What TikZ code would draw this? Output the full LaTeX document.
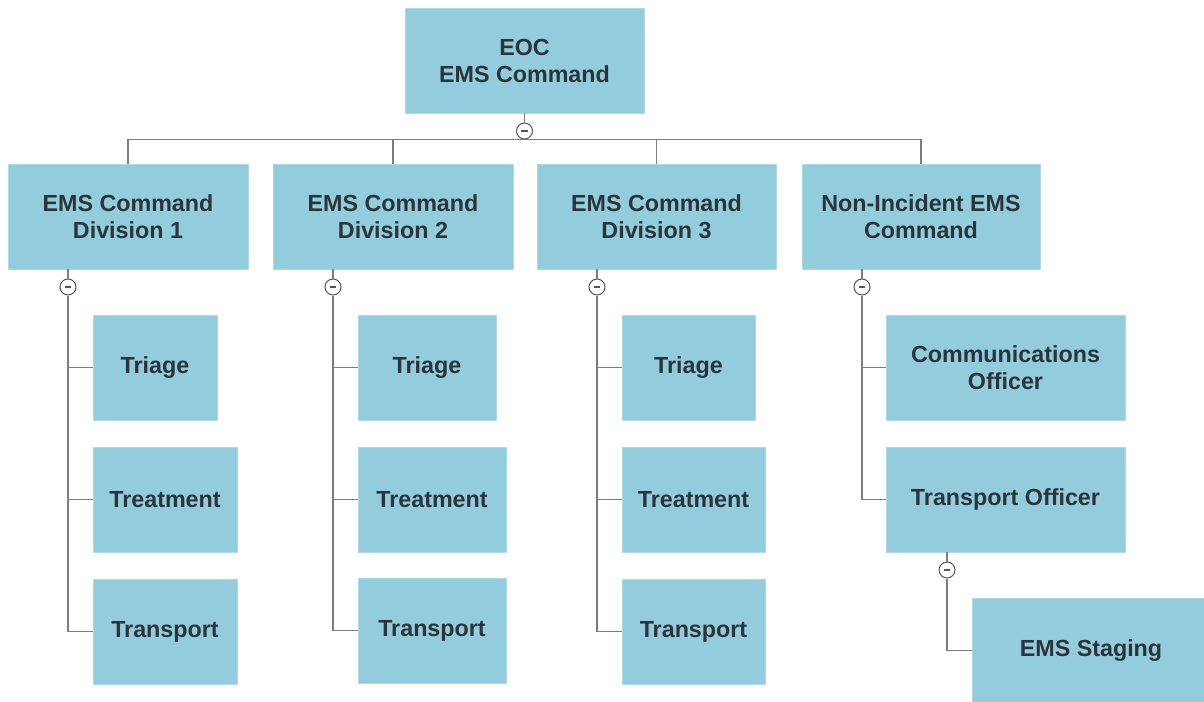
\documentclass[tikz,border=0pt]{standalone}
\usepackage{fontspec}
\setmainfont{Liberation Sans}
\definecolor{boxfill}{RGB}{147,205,221}
\definecolor{boxedge}{RGB}{175,217,229}
\definecolor{txt}{RGB}{42,52,58}
\definecolor{conncol}{RGB}{125,125,125}
\definecolor{togcol}{RGB}{85,85,85}
\tikzset{
  x=1pt, y=-1pt,
  box/.style={rectangle, fill=boxfill, draw=boxedge, line width=0.8pt, inner sep=0pt,
    minimum height=105pt, align=center, text=txt,
    font=\fontsize{23.3}{27}\selectfont\bfseries},
  conn/.style={draw=conncol, line width=1.3pt},
  tog/.style={circle, fill=white, draw=togcol, line width=1pt, minimum size=16pt, inner sep=0pt,
    path picture={\draw[togcol, line width=1.7pt] ([xshift=-3.4pt]path picture bounding box.center) -- ([xshift=3.4pt]path picture bounding box.center);}},
}
\begin{document}
\begin{tikzpicture}
\useasboundingbox (0,0) rectangle (1204,701);
\clip (0,0) rectangle (1204,701);
\fill[white] (0,0) rectangle (1204,701);

% boxes
\node[box, minimum width=239pt] (top) at (524.5,60.5) {EOC\\EMS Command};
\node[box, minimum width=240pt] (d1) at (128,216.5) {EMS Command\\Division 1};
\node[box, minimum width=240pt] (d2) at (393,216.5) {EMS Command\\Division 2};
\node[box, minimum width=239pt] (d3) at (656.5,216.5) {EMS Command\\Division 3};
\node[box, minimum width=238pt] (d4) at (921,216.5) {Non-Incident EMS\\Command};

\node[box, minimum width=124pt] (t1) at (155,367.5) {Triage};
\node[box, minimum width=144pt] (r1) at (165,499.5) {Treatment};
\node[box, minimum width=144pt] (p1) at (165,631.5) {Transport};

\node[box, minimum width=138pt] (t2) at (427,367.5) {Triage};
\node[box, minimum width=148pt] (r2) at (432,499.5) {Treatment};
\node[box, minimum width=148pt] (p2) at (432,630.5) {Transport};

\node[box, minimum width=133pt] (t3) at (688.5,367.5) {Triage};
\node[box, minimum width=143pt] (r3) at (693.5,499.5) {Treatment};
\node[box, minimum width=143pt] (p3) at (693.5,631.5) {Transport};

\node[box, minimum width=239pt] (c4) at (1005.5,367.5) {Communications\\Officer};
\node[box, minimum width=239pt] (o4) at (1005.5,499.5) {Transport Officer};

\node[box, minimum width=238pt] (s5) at (1091,650.5) {EMS Staging};

% toggles
\node[tog] (k0) at (524.5,131) {};
\node[tog] (k1) at (68,287) {};
\node[tog] (k2) at (333,287) {};
\node[tog] (k3) at (597,287) {};
\node[tog] (k4) at (862,287) {};
\node[tog] (k5) at (947,570) {};

% top level connectors
\draw[conn] (top.south) -- (k0.north);
\draw[conn] (d1.north) -- (d1.north |- k0.south) -- (d4.north |- k0.south) -- (d4.north);
\draw[conn] (d2.north |- k0.south) -- (d2.north);
\draw[conn] (d3.north |- k0.south) -- (d3.north);

% division 1
\draw[conn] (d1.south -| k1) -- (k1.north);
\draw[conn] (k1.south) -- (k1.south |- p1.west) -- (p1.west);
\draw[conn] (k1 |- t1.west) -- (t1.west);
\draw[conn] (k1 |- r1.west) -- (r1.west);

% division 2
\draw[conn] (d2.south -| k2) -- (k2.north);
\draw[conn] (k2.south) -- (k2.south |- p2.west) -- (p2.west);
\draw[conn] (k2 |- t2.west) -- (t2.west);
\draw[conn] (k2 |- r2.west) -- (r2.west);

% division 3
\draw[conn] (d3.south -| k3) -- (k3.north);
\draw[conn] (k3.south) -- (k3.south |- p3.west) -- (p3.west);
\draw[conn] (k3 |- t3.west) -- (t3.west);
\draw[conn] (k3 |- r3.west) -- (r3.west);

% non-incident
\draw[conn] (d4.south -| k4) -- (k4.north);
\draw[conn] (k4.south) -- (k4.south |- o4.west) -- (o4.west);
\draw[conn] (k4 |- c4.west) -- (c4.west);

% transport officer -> staging
\draw[conn] (o4.south -| k5) -- (k5.north);
\draw[conn] (k5.south) -- (k5.south |- s5.west) -- (s5.west);
\end{tikzpicture}
\end{document}
